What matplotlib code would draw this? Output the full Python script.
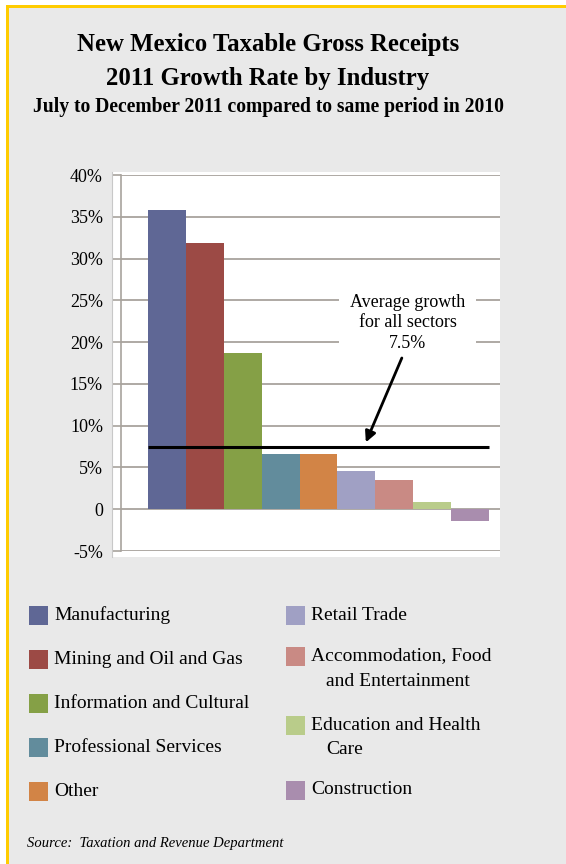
import numpy as np
import matplotlib
matplotlib.use("Agg")
import matplotlib.pyplot as plt
from matplotlib.patches import Rectangle

# Growth of taxable gross receipts, Jul-Dec 2011 vs Jul-Dec 2010 (percent)
industries = [
    "Manufacturing",
    "Mining and Oil and Gas",
    "Information and Cultural",
    "Professional Services",
    "Other",
    "Retail Trade",
    "Accommodation, Food\nand Entertainment",
    "Education and Health\nCare",
    "Construction",
]
growth = [35.8, 31.9, 18.7, 6.6, 6.6, 4.6, 3.5, 0.9, -1.4]
average_growth = 7.5

colors = ["#5F6795", "#9C4A45", "#85A046", "#628C9C", "#D28446",
          "#A0A0C4", "#C98A84", "#B9CC8A", "#A98DAE"]

y_ticks = [-5, 0, 5, 10, 15, 20, 25, 30, 35, 40]
y_labels = ["-5%", "0", "5%", "10%", "15%", "20%", "25%", "30%", "35%", "40%"]

W, H = 566, 864
SERIF = "Liberation Serif"
GRID = "#A8A39D"


def px(x, y):
    # figure fraction from pixel position measured from the top-left corner
    return x / W, 1 - y / H


def draw_frame(fig):
    fig.patch.set_facecolor("white")
    fig.patches.append(Rectangle(px(6, H), (W - 6) / W, (H - 5) / H,
                                 transform=fig.transFigure, facecolor="#E9E9E9",
                                 edgecolor="none", zorder=0))
    # yellow border along the top and left
    fig.patches.append(Rectangle(px(6, 8), (W - 6) / W, 3 / H,
                                 transform=fig.transFigure, facecolor="#FFCC00",
                                 edgecolor="none", zorder=1))
    fig.patches.append(Rectangle(px(6, H), 3 / W, (H - 5) / H,
                                 transform=fig.transFigure, facecolor="#FFCC00",
                                 edgecolor="none", zorder=1))
    # white plot panel
    fig.patches.append(Rectangle(px(112, 557), 388 / W, 385 / H,
                                 transform=fig.transFigure, facecolor="white",
                                 edgecolor="none", zorder=1))
    fig.lines.append(plt.Line2D([112 / W, 112 / W], [1 - 557 / H, 1 - 172 / H],
                                transform=fig.transFigure, color="#C8C8C8",
                                lw=0.8, zorder=2))


def draw_titles(fig):
    fig.text(*px(268, 44), "New Mexico Taxable Gross Receipts", ha="center",
             va="center", family=SERIF, weight="bold", fontsize=17.8)
    fig.text(*px(268, 78), "2011 Growth Rate by Industry", ha="center",
             va="center", family=SERIF, weight="bold", fontsize=17.8)
    fig.text(*px(268, 107), "July to December 2011 compared to same period in 2010",
             ha="center", va="center", family=SERIF, weight="bold", fontsize=14.1)


def draw_chart(fig):
    left, right, top, bottom = 121, 500, 175, 551
    ax = fig.add_axes([left / W, 1 - bottom / H, (right - left) / W, (bottom - top) / H])
    ax.set_facecolor("none")
    ax.set_zorder(3)

    x = np.arange(len(growth))
    ax.bar(x, growth, width=1.0, color=colors, zorder=2)
    ax.hlines(average_growth, -0.5, len(growth) - 0.5, color="black", lw=2.2, zorder=4)

    ax.set_xlim(-1.21, 8.79)
    ax.set_ylim(-5, 40)
    ax.set_yticks(y_ticks)
    ax.set_yticklabels(y_labels, family=SERIF, fontsize=13)
    ax.set_xticks([])
    ax.grid(axis="y", color=GRID, lw=1.3, zorder=1)
    ax.tick_params(axis="y", length=6, width=1.2, color=GRID, pad=7)
    for side in ["top", "right", "bottom"]:
        ax.spines[side].set_visible(False)
    ax.spines["left"].set_color(GRID)
    ax.spines["left"].set_linewidth(1.2)

    ax.text(6.36, 22.3, "Average growth\nfor all sectors\n7.5%", ha="center",
            va="center", family=SERIF, fontsize=13, linespacing=1.28, zorder=5,
            bbox=dict(boxstyle="square,pad=0.6", facecolor="white", edgecolor="none"))
    ax.annotate("", xy=(5.25, 8.0), xytext=(6.2, 18.1), zorder=6,
                arrowprops=dict(arrowstyle="-|>", color="black", lw=2,
                                mutation_scale=16, shrinkA=0, shrinkB=0))


def draw_legend(fig):
    rows_left = [615, 659, 703, 747, 791]
    rows_right = [615, 656, 725, 790]
    spots = [(29, 54, y) for y in rows_left] + [(286, 311, y) for y in rows_right]
    for (sq_x, tx, y), name, c in zip(spots, industries, colors):
        fig.patches.append(Rectangle(px(sq_x, y + 9.5), 18.5 / W, 19 / H,
                                     transform=fig.transFigure, facecolor=c,
                                     edgecolor="none", zorder=2))
        lines = name.split("\n")
        fig.text(*px(tx, y), lines[0], ha="left", va="center", family=SERIF, fontsize=14)
        if len(lines) > 1:
            fig.text(*px(tx + 15, y + 25), lines[1], ha="left", va="center",
                     family=SERIF, fontsize=14)


def main():
    fig = plt.figure(figsize=(W / 100, H / 100), dpi=100)
    draw_frame(fig)
    draw_titles(fig)
    draw_chart(fig)
    draw_legend(fig)
    fig.text(*px(27, 843), "Source:  Taxation and Revenue Department", ha="left",
             va="center", family=SERIF, style="italic", fontsize=10.5)
    fig.savefig("out.png", dpi=100)


if __name__ == "__main__":
    main()
